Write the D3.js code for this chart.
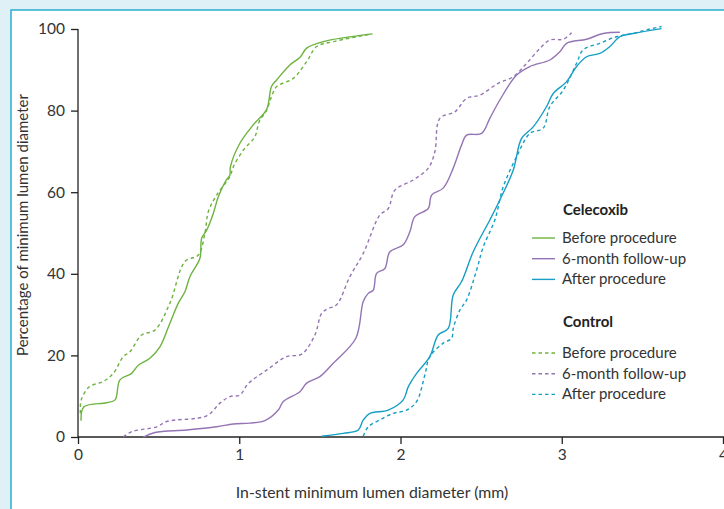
<!DOCTYPE html>
<html>
<head>
<meta charset="utf-8">
<script src="https://cdn.jsdelivr.net/npm/d3@7"></script>
<style>
  body { margin: 0; background: #dff0f6; }
  svg { display: block; font-family: Lato, "Open Sans", sans-serif; }
</style>
</head>
<body>
<svg width="724" height="509"></svg>
<script>
// [diameter mm, cumulative %]
const celecoxibBefore = [
  [0.019, 4.0], [0.037, 7.4], [0.178, 8.4], [0.23, 9.1], [0.26, 14], [0.333, 15.6],
  [0.374, 17.6], [0.446, 19.3], [0.508, 22.1], [0.57, 27.9], [0.622, 32.8], [0.663, 35.6],
  [0.694, 39.3], [0.756, 43.8], [0.767, 48.7], [0.798, 50.7], [0.839, 54.8], [0.87, 58.9],
  [0.92, 63], [0.942, 64.2], [0.945, 66.2], [1.004, 72], [1.087, 76.5], [1.17, 80.3],
  [1.2, 85.9], [1.232, 87.5], [1.314, 91.2], [1.376, 93], [1.418, 95.3], [1.52, 96.9],
  [1.827, 98.8]
];
const celecoxibFollowUp = [
  [0.405, 0], [0.477, 1.1], [0.674, 1.7], [0.86, 2.5], [0.963, 3.2], [1.066, 3.4],
  [1.159, 4.0], [1.242, 6.6], [1.273, 8.7], [1.376, 11.1], [1.418, 13.2], [1.5, 14.8],
  [1.583, 18.1], [1.723, 24.2], [1.769, 33.2], [1.8, 35.2], [1.831, 36.0], [1.852, 40.1],
  [1.903, 41.3], [1.934, 45.4], [2.017, 47.1], [2.058, 50.3], [2.089, 54], [2.172, 56],
  [2.193, 59.3], [2.265, 61], [2.327, 65.9], [2.379, 71.6], [2.41, 74], [2.503, 74.4],
  [2.554, 78.1], [2.616, 82.6], [2.72, 88.7], [2.802, 90.8], [2.926, 92.4], [2.988, 94.4],
  [3.03, 96.5], [3.154, 97.5], [3.257, 98.9], [3.36, 99.2]
];
const celecoxibAfter = [
  [1.511, 0.2], [1.645, 0.9], [1.738, 1.7], [1.769, 4.2], [1.81, 5.8], [1.924, 6.6],
  [2.017, 9.1], [2.048, 12.3], [2.1, 15.6], [2.182, 19.7], [2.234, 25], [2.296, 26.6],
  [2.327, 34.8], [2.379, 38.1], [2.451, 45.4], [2.554, 53.2], [2.616, 58.1], [2.699, 65.4],
  [2.751, 73.2], [2.823, 76], [2.906, 81], [2.947, 84.2], [3.03, 87.1], [3.092, 90.8],
  [3.154, 93.2], [3.236, 94], [3.298, 95.7], [3.36, 98.1], [3.443, 98.9], [3.619, 100.1]
];
const controlBefore = [
  [0.015, 5.8], [0.02, 9.1], [0.07, 12.3], [0.157, 13.6], [0.219, 15.6], [0.281, 19.7],
  [0.322, 20.9], [0.395, 25], [0.477, 26.2], [0.57, 32.8], [0.663, 43], [0.746, 44.6],
  [0.787, 49.9], [0.808, 55.2], [0.86, 59.3], [0.942, 63.8], [0.963, 66.2], [1.025, 70.3],
  [1.097, 73.6], [1.124, 77.3], [1.17, 80.1], [1.2, 83.4], [1.232, 85.9], [1.335, 87.9],
  [1.418, 92], [1.48, 95.7], [1.583, 96.9], [1.81, 98.7]
];
const controlFollowUp = [
  [0.281, 0], [0.333, 1.3], [0.488, 2.5], [0.55, 3.8], [0.798, 5.2], [0.88, 8.3],
  [0.942, 9.9], [1.004, 10.3], [1.056, 13.1], [1.17, 16.4], [1.294, 19.7], [1.387, 20.3],
  [1.469, 25], [1.511, 30.3], [1.552, 31.5], [1.604, 32.4], [1.686, 39.3], [1.769, 45],
  [1.872, 54.4], [1.924, 56], [1.965, 60.5], [2.079, 63], [2.172, 65.9], [2.213, 69.9],
  [2.244, 78.1], [2.337, 79.7], [2.41, 83], [2.492, 83.8], [2.606, 86.7], [2.699, 88.3],
  [2.782, 91.6], [2.864, 95.2], [2.926, 97.3], [3.009, 97.5], [3.061, 99.1]
];
const controlAfter = [
  [1.769, 0.2], [1.8, 2.5], [1.872, 4.2], [1.955, 5.8], [2.038, 6.6], [2.1, 8.7],
  [2.151, 15.2], [2.182, 19.7], [2.265, 23], [2.317, 24.2], [2.327, 26.6], [2.368, 31.1],
  [2.41, 33.6], [2.472, 40.9], [2.513, 46.6], [2.585, 53.2], [2.637, 61.3], [2.72, 68.7],
  [2.802, 74.4], [2.885, 75.7], [2.926, 81], [3.009, 85], [3.092, 91.6], [3.133, 94.9],
  [3.236, 96.5], [3.339, 98.1], [3.443, 98.9], [3.526, 99.8], [3.619, 100.6]
];

const xTicks = [0, 1, 2, 3, 4];
const yTicks = [0, 20, 40, 60, 80, 100];
const groupNames = ["Celecoxib", "Control"];
const seriesNames = ["Before procedure", "6-month follow-up", "After procedure"];
const seriesColors = ["#6db33f", "#9474b4", "#159fc4"];

main();

function main() {
  const svg = d3.select("svg");

  // white panel with cyan border on top / left
  svg.append("rect")
    .attr("x", 11).attr("y", 10)
    .attr("width", 800).attr("height", 600)
    .attr("fill", "#fff")
    .attr("stroke", "#2badd0")
    .attr("stroke-width", 1.5);

  const xScale = d3.scaleLinear().domain([0, 4]).range([78, 723]);
  const yScale = d3.scaleLinear().domain([0, 100]).range([437, 29]);

  const xAxis = d3.axisBottom(xScale).tickValues(xTicks).tickFormat(d3.format("d"))
    .tickSize(7).tickPadding(5);
  const yAxis = d3.axisLeft(yScale).tickValues(yTicks).tickFormat(d3.format("d"))
    .tickSize(7).tickPadding(6);

  const gx = svg.append("g")
    .attr("transform", `translate(0, ${yScale(0)})`)
    .call(xAxis);
  const gy = svg.append("g")
    .attr("transform", `translate(${xScale(0)}, 0)`)
    .call(yAxis);

  [gx, gy].forEach((g) => {
    g.attr("font-size", null).attr("font-family", null);
    g.select(".domain").attr("stroke", "#222").attr("stroke-width", 1.3);
    g.selectAll(".tick line").attr("stroke", "#222").attr("stroke-width", 1.3);
    g.selectAll(".tick text")
      .attr("fill", "#333")
      .style("font-size", "15.5px");
  });
  gx.select(".domain").attr("d", `M${xScale(0)},0H724`);
  gy.select(".domain").attr("d", `M0,${yScale(0)}V${yScale(100)}`);

  const line = d3.line()
    .x((d) => xScale(d[0]))
    .y((d) => yScale(d[1]))
    .curve(d3.curveCatmullRom.alpha(0.5));

  const series = [
    { data: controlBefore, color: seriesColors[0], dashed: true },
    { data: controlFollowUp, color: seriesColors[1], dashed: true },
    { data: controlAfter, color: seriesColors[2], dashed: true },
    { data: celecoxibBefore, color: seriesColors[0], dashed: false },
    { data: celecoxibFollowUp, color: seriesColors[1], dashed: false },
    { data: celecoxibAfter, color: seriesColors[2], dashed: false }
  ];

  svg.append("g")
    .selectAll("path")
    .data(series)
    .join("path")
    .attr("d", (d) => line(d.data))
    .attr("fill", "none")
    .attr("stroke", (d) => d.color)
    .attr("stroke-width", 1.4)
    .attr("stroke-dasharray", (d) => (d.dashed ? "3.5,3" : null));

  // axis titles
  svg.append("text")
    .text("In-stent minimum lumen diameter (mm)")
    .attr("x", 372).attr("y", 498)
    .attr("text-anchor", "middle")
    .attr("fill", "#333")
    .style("font-size", "15.8px");

  svg.append("text")
    .text("Percentage of minimum lumen diameter")
    .attr("transform", "translate(28, 225) rotate(-90)")
    .attr("text-anchor", "middle")
    .attr("fill", "#333")
    .style("font-size", "15px");

  // legend
  const legendTop = [210, 322];
  groupNames.forEach((name, gi) => {
    const top = legendTop[gi];
    svg.append("text")
      .text(name)
      .attr("x", 563).attr("y", top + 5)
      .attr("fill", "#222")
      .style("font-size", "15px")
      .style("font-weight", "bold");

    seriesNames.forEach((s, i) => {
      const y = top + (gi === 0 ? 28 : 31) + i * 20.7;
      svg.append("line")
        .attr("x1", 532).attr("x2", 555)
        .attr("y1", y).attr("y2", y)
        .attr("stroke", seriesColors[i])
        .attr("stroke-width", 1.4)
        .attr("stroke-dasharray", gi === 1 ? "3.5,3" : null);
      svg.append("text")
        .text(s)
        .attr("x", 562).attr("y", y + 5)
        .attr("fill", "#333")
        .style("font-size", "15px");
    });
  });
}
</script>
</body>
</html>
